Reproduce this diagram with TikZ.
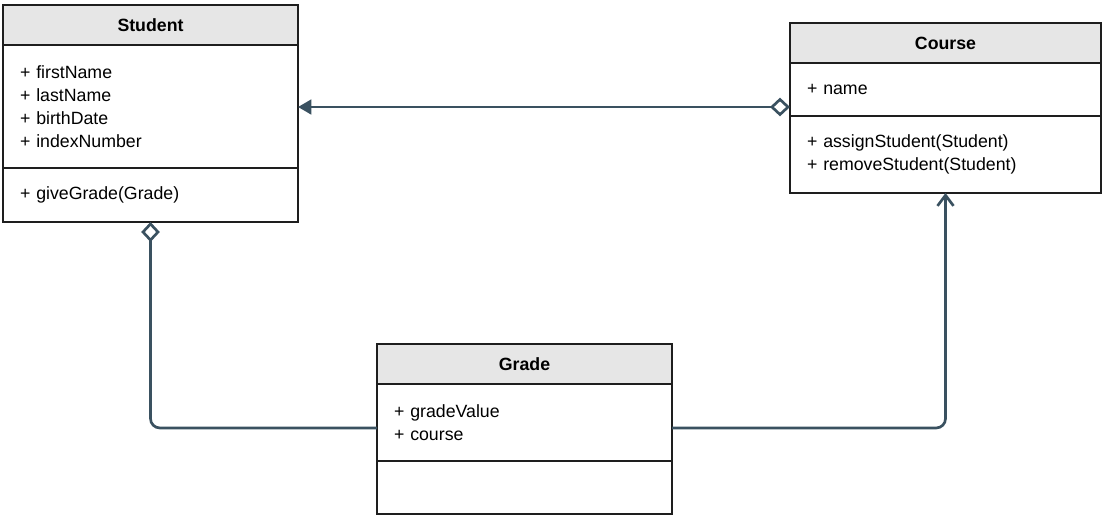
\documentclass[tikz,border=0pt]{standalone}
\usepackage{fontspec}
\setmainfont{Liberation Sans}
\usepackage{tikz}
\usetikzlibrary{arrows.meta,positioning}
\definecolor{umlborder}{HTML}{1E1E1E}
\definecolor{umlhead}{HTML}{E6E6E6}
\definecolor{umlline}{HTML}{3A5160}
\newcommand{\umltext}{\fontsize{13.3}{17.25}\selectfont}
\tikzset{
  member/.style={draw=umlborder, line width=0.9pt, outer sep=0pt, inner xsep=12.75pt, inner ysep=0pt, align=left, font=\umltext},
  classname/.style={member, fill=umlhead, align=center, minimum height=30pt, font=\umltext\bfseries},
  link/.style={draw=umlline, line width=2pt, rounded corners=7pt},
  aggr/.style={link, {Diamond[open, length=15pt, width=14pt, fill=white]}-{Triangle[length=10pt, width=11pt]}},
  owns/.style={link, {Diamond[open, length=15pt, width=14pt, fill=white]}-},
  uses/.style={link, -{Straight Barb[length=8pt, width=12pt]}},
}

\begin{document}
\begin{tikzpicture}[x=0.75pt, y=-0.75pt]
  \useasboundingbox (0,0) rectangle (1106,522);
  % Student
  \node[classname, text width=195.75pt, anchor=north west] (student) at (3,5) {Student};
  \node[member, text width=195.75pt, minimum height=92.25pt, below=0pt of student] (studentattr) {+ firstName\\+ lastName\\+ birthDate\\+ indexNumber};
  \node[member, text width=195.75pt, minimum height=40.5pt, below=0pt of studentattr] (studentops) {+ giveGrade(Grade)};
  % Course
  \node[classname, text width=207.75pt, anchor=north west] (course) at (790,23) {Course};
  \node[member, text width=207.75pt, minimum height=39.75pt, below=0pt of course] (courseattr) {+ name};
  \node[member, text width=207.75pt, minimum height=57.75pt, below=0pt of courseattr] (courseops) {+ assignStudent(Student)\\+ removeStudent(Student)};
  % Grade
  \node[classname, text width=195.75pt, anchor=north west] (grade) at (377,344) {Grade};
  \node[member, text width=195.75pt, minimum height=57.75pt, below=0pt of grade] (gradeattr) {+ gradeValue\\+ course};
  \node[member, text width=195.75pt, minimum height=39.75pt, below=0pt of gradeattr] (gradeops) {};

  \draw[aggr] ([yshift=6.75pt]courseattr.south west) coordinate (cs) -- (cs -| studentattr.east);
  \draw[owns] (studentops.south) |- ([yshift=-4.1pt]gradeattr.west);
  \draw[uses] ([yshift=-4.1pt]gradeattr.east) -| (courseops.south);
\end{tikzpicture}
\end{document}
